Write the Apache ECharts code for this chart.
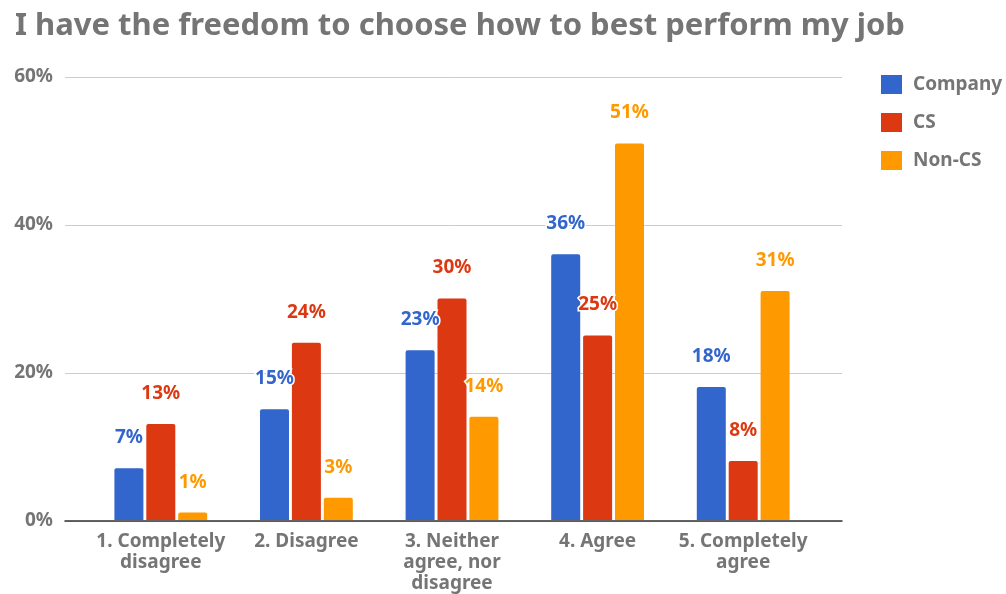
<!DOCTYPE html>
<html>
<head>
<meta charset="utf-8">
<script src="https://cdn.jsdelivr.net/npm/echarts@6/dist/echarts.min.js"></script>
<style>
  html, body { margin: 0; padding: 0; background: #fff; }
  #chart { width: 1006px; height: 594px; }
</style>
</head>
<body>
<div id="chart"></div>
<script>
// Survey answers, share of respondents per group (percent)
const categories = [
  '1. Completely\ndisagree',
  '2. Disagree',
  '3. Neither\nagree, nor\ndisagree',
  '4. Agree',
  '5. Completely\nagree'
];
const companyValues = [7, 15, 23, 36, 18];
const csValues = [13, 24, 30, 25, 8];
const nonCsValues = [1, 3, 14, 51, 31];
const yTicks = [0, 20, 40, 60];

const seriesNames = ['Company', 'CS', 'Non-CS'];
const seriesColors = ['#3366cc', '#dc3912', '#ff9900'];
const seriesValues = [companyValues, csValues, nonCsValues];

const FONT = '"Noto Sans", Roboto, sans-serif';
const GREY = '#757575';

const chart = echarts.init(document.getElementById('chart'), null, { renderer: 'canvas' });

const option = {
  animation: false,
  backgroundColor: '#fff',
  textStyle: { fontFamily: FONT },
  title: {
    text: 'I have the freedom to choose how to best perform my job',
    left: 10,
    top: 6,
    textStyle: { fontFamily: FONT, fontSize: 31, fontWeight: 'bold', color: GREY }
  },
  legend: {
    orient: 'vertical',
    left: 876,
    top: 70,
    itemWidth: 21,
    itemHeight: 19,
    itemGap: 19,
    icon: 'rect',
    data: seriesNames,
    textStyle: {
      fontFamily: FONT,
      fontSize: 19,
      fontWeight: 'bold',
      color: GREY,
      padding: [0, 0, 0, 6]
    }
  },
  grid: [
    // bars
    { left: 88, right: 190, top: 77, bottom: 73 },
    // gridlines, baseline and value labels across the full plot width
    { left: 65, right: 164, top: 77, bottom: 73 }
  ],
  xAxis: [
    {
      type: 'category',
      gridIndex: 0,
      data: categories,
      axisLine: { show: false },
      axisTick: { show: false },
      axisLabel: {
        interval: 0,
        margin: 11,
        fontFamily: FONT,
        fontSize: 19,
        fontWeight: 'bold',
        lineHeight: 21,
        color: GREY
      }
    },
    {
      type: 'value',
      gridIndex: 1,
      min: 0,
      max: 1,
      axisLine: { show: true, lineStyle: { color: '#333', width: 1.5 } },
      axisTick: { show: false },
      axisLabel: { show: false },
      splitLine: { show: false }
    }
  ],
  yAxis: [
    {
      type: 'value',
      gridIndex: 0,
      min: yTicks[0],
      max: yTicks[yTicks.length - 1],
      interval: 20,
      axisLine: { show: false },
      axisTick: { show: false },
      axisLabel: { show: false },
      splitLine: { show: false }
    },
    {
      type: 'value',
      gridIndex: 1,
      min: yTicks[0],
      max: yTicks[yTicks.length - 1],
      interval: 20,
      axisLine: { show: false },
      axisTick: { show: false },
      axisLabel: {
        formatter: '{value}%',
        margin: 12,
        fontFamily: FONT,
        fontSize: 19,
        fontWeight: 'bold',
        color: GREY
      },
      splitLine: { lineStyle: { color: '#cccccc', width: 1 } }
    }
  ],
  series: seriesNames.map((name, i) => ({
    name: name,
    type: 'bar',
    xAxisIndex: 0,
    yAxisIndex: 0,
    data: seriesValues[i],
    barWidth: 29,
    barGap: '10%',
    itemStyle: { color: seriesColors[i], borderRadius: [2, 2, 0, 0] },
    label: {
      show: true,
      position: 'top',
      distance: 21,
      formatter: '{c}%',
      fontFamily: FONT,
      fontSize: 19,
      fontWeight: 'bold',
      color: seriesColors[i],
      textBorderColor: '#fff',
      textBorderWidth: 3
    }
  }))
};

chart.setOption(option);
</script>
</body>
</html>
